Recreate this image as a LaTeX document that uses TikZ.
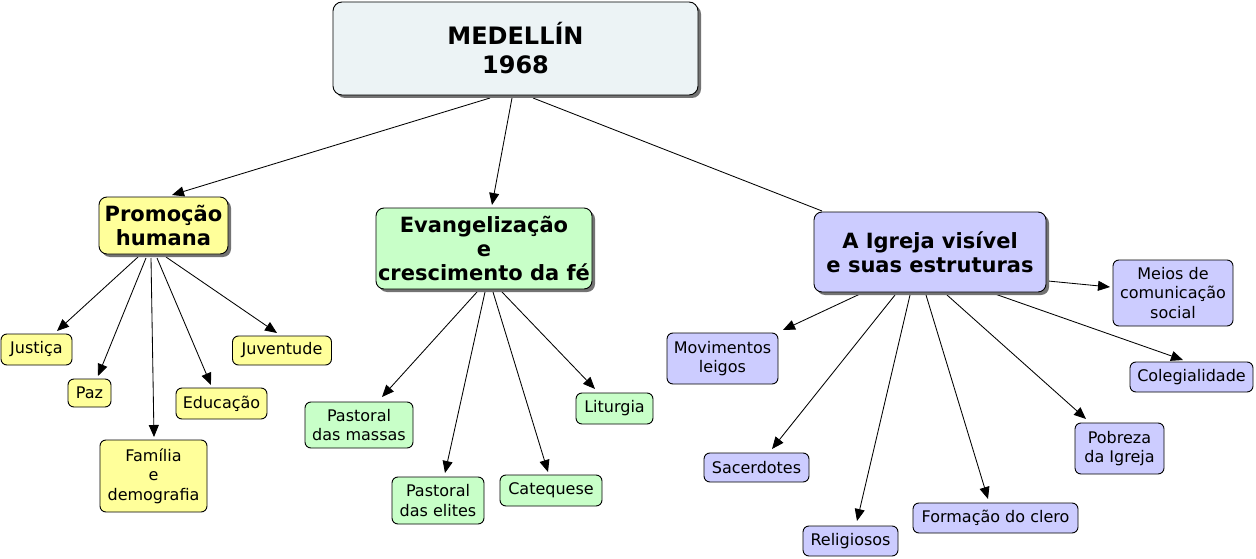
\documentclass[tikz,border=0pt]{standalone}
\usepackage{fontspec}
\setmainfont{DejaVu Sans}
\usetikzlibrary{arrows.meta,shadows,calc,backgrounds}
\definecolor{cyel}{HTML}{FFFF9A}
\definecolor{cgrn}{HTML}{C8FFC8}
\definecolor{cblu}{HTML}{CCCCFF}
\definecolor{ctop}{HTML}{ECF3F5}
\tikzset{
  base/.style={draw=black, line width=0.9pt, rounded corners=6pt, inner sep=0pt, align=center, font=\fontsize{16}{19.5}\selectfont},
  topbox/.style={base, rounded corners=9pt, fill=ctop, font=\fontsize{24}{29}\selectfont\bfseries,
     drop shadow={shadow xshift=3pt, shadow yshift=-3pt, fill=black!55, opacity=1}},
  midbox/.style={base, rounded corners=8pt, font=\fontsize{21}{24}\selectfont\bfseries,
     drop shadow={shadow xshift=3pt, shadow yshift=-3pt, fill=black!55, opacity=1}},
  ybox/.style={base, fill=cyel},
  gbox/.style={base, fill=cgrn},
  bbox/.style={base, fill=cblu},
  link/.style={line width=0.85pt, draw=black},
  arr/.style={link, -{Triangle[length=12pt,width=10pt]}},
}
\begin{document}
\begin{tikzpicture}[x=1pt,y=-1pt]
\useasboundingbox (0,0) rectangle (1256,559);
% main nodes
\node[topbox, minimum width=365pt, minimum height=93pt] (med) at (515.5,48.5) {MEDELLÍN\\1968};
\node[midbox, fill=cyel, minimum width=129pt, minimum height=57pt] (prom) at (163.5,225.5) {Promoção\\humana};
\node[midbox, fill=cgrn, minimum width=216pt, minimum height=81pt] (evan) at (484,248.5) {Evangelização\\e\\crescimento da fé};
\node[midbox, fill=cblu, minimum width=232pt, minimum height=80pt] (igr) at (930,252) {A Igreja visível\\e suas estruturas};
% yellow
\node[ybox, minimum width=71pt, minimum height=31pt] (just) at (36.5,349.5) {Justiça};
\node[ybox, minimum width=43pt, minimum height=28pt] (paz) at (89.5,393) {Paz};
\node[ybox, minimum width=107pt, minimum height=72pt] (fam) at (153.5,476) {Família\\e\\demografia};
\node[ybox, minimum width=91pt, minimum height=31pt] (edu) at (221.5,403.5) {Educação};
\node[ybox, minimum width=99pt, minimum height=29pt] (juv) at (282,350.5) {Juventude};
% green
\node[gbox, minimum width=108pt, minimum height=46pt] (pmas) at (359,425) {Pastoral\\das massas};
\node[gbox, minimum width=92pt, minimum height=47pt] (pel) at (438,500.5) {Pastoral\\das elites};
\node[gbox, minimum width=102pt, minimum height=31pt] (cat) at (551,490.5) {Catequese};
\node[gbox, minimum width=77pt, minimum height=31pt] (lit) at (614.5,408.5) {Liturgia};
% blue
\node[bbox, minimum width=111pt, minimum height=51pt] (mov) at (722.5,358.5) {Movimentos\\leigos};
\node[bbox, minimum width=105pt, minimum height=29pt] (sac) at (756.5,467.5) {Sacerdotes};
\node[bbox, minimum width=95pt, minimum height=30pt] (rel) at (850.5,541) {Religiosos};
\node[bbox, minimum width=165pt, minimum height=30pt] (form) at (995.5,518) {Formação do clero};
\node[bbox, minimum width=89pt, minimum height=51pt] (pob) at (1119.5,448.5) {Pobreza\\da Igreja};
\node[bbox, minimum width=123pt, minimum height=30pt] (col) at (1191.5,377) {Colegialidade};
\node[bbox, minimum width=120pt, minimum height=66pt] (meios) at (1173,293) {Meios de\\comunicação\\social};
\begin{scope}[on background layer]
% from MEDELLIN
\draw[arr] ($(med)+(-25.5,49.5)$) -- ($(prom)+(8.5,-30.5)$);
\draw[arr] ($(med)+(-3.5,49.5)$) -- ($(evan)+(8,-43.5)$);
\draw[link] ($(med)+(17.5,49.5)$) -- ($(igr)+(-108,-41)$);
% from Promocao
\draw[arr] ($(prom)+(-25.5,31.5)$) -- ($(just)+(20.5,-18.5)$);
\draw[arr] ($(prom)+(-17.5,32.5)$) -- ($(paz)+(8.5,-17)$);
\draw[arr] ($(prom)+(-12.5,32.5)$) -- ($(fam)+(0.5,-39)$);
\draw[arr] ($(prom)+(-6.5,32.5)$) -- ($(edu)+(-10.5,-18.5)$);
\draw[arr] ($(prom)+(2.5,31.5)$) -- ($(juv)+(-5,-17.5)$);
% from Evangelizacao
\draw[arr] ($(evan)+(-7,43.5)$) -- ($(pmas)+(23,-28)$);
\draw[arr] ($(evan)+(1,43.5)$) -- ($(pel)+(7,-27.5)$);
\draw[arr] ($(evan)+(9,43.5)$) -- ($(cat)+(-3,-18.5)$);
\draw[arr] ($(evan)+(18,43.5)$) -- ($(lit)+(-19.5,-19.5)$);
% from Igreja
\draw[arr] ($(igr)+(118,29)$) -- ($(meios)+(-63,-6)$);
\draw[arr] ($(igr)+(-70,42)$) -- ($(mov)+(60.5,-28.5)$);
\draw[arr] ($(igr)+(-35,43)$) -- ($(sac)+(15.5,-18.5)$);
\draw[arr] ($(igr)+(-20,43)$) -- ($(rel)+(6.5,-20)$);
\draw[arr] ($(igr)+(-4,43)$) -- ($(form)+(-7.5,-19)$);
\draw[arr] ($(igr)+(17,43)$) -- ($(pob)+(-33.5,-29.5)$);
\draw[arr] ($(igr)+(65,42)$) -- ($(col)+(-8.5,-17)$);
\end{scope}
\end{tikzpicture}
\end{document}
